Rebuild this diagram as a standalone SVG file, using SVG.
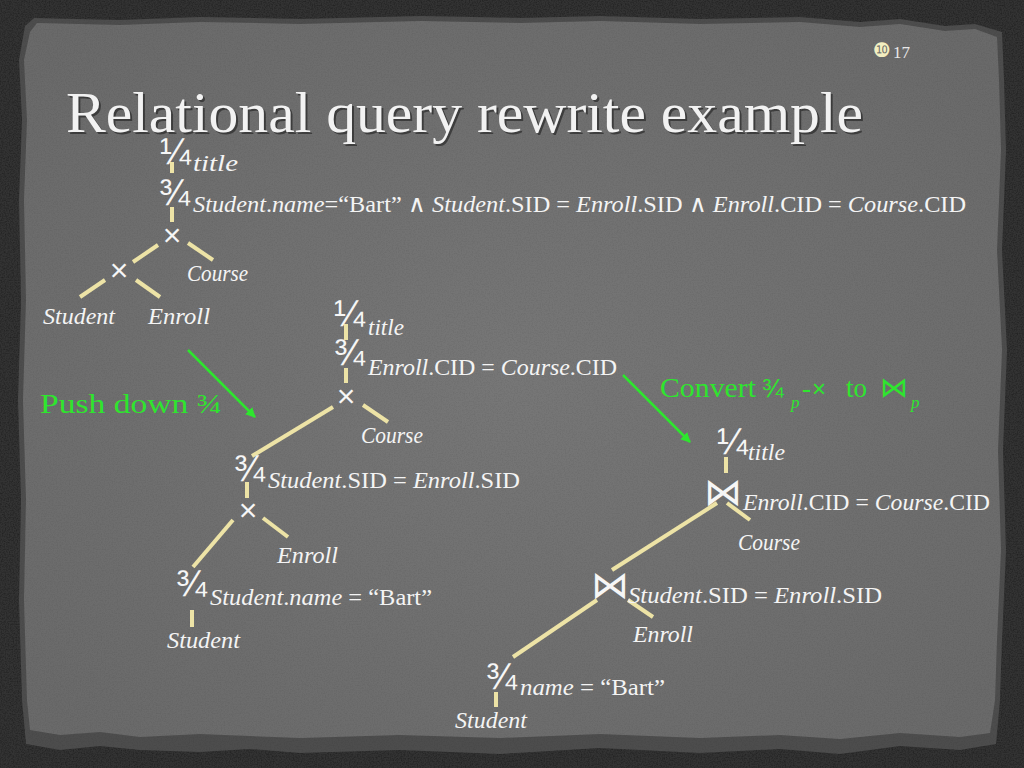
<svg xmlns="http://www.w3.org/2000/svg" width="1024" height="768" viewBox="0 0 1024 768">
<defs>
<style>
.math{font-family:"Liberation Serif",serif;font-size:24px;fill:#f4f4f4}
.it{font-style:italic}
.frac{font-family:"Liberation Sans",Arial,sans-serif;font-size:37px;fill:#f6f6f6}
.op{font-family:"Liberation Sans",Arial,sans-serif;font-size:32px;fill:#f6f6f6;text-anchor:middle}
.join{font-family:"DejaVu Sans",sans-serif;font-weight:200;font-size:38px;fill:#f6f6f6;text-anchor:middle}
.edge{stroke:#ede3a6;stroke-width:4;fill:none}
.green{fill:#2ee52e;font-family:"Liberation Serif",serif}
.garrow{stroke:#2ee52e;stroke-width:2.5;fill:none}
</style>
<marker id="ah" viewBox="0 0 10 10" refX="9" refY="5" markerWidth="4" markerHeight="4" orient="auto" markerUnits="strokeWidth">
<path d="M0,0 L10,5 L0,10 z" fill="#2ee52e"/>
</marker>
<radialGradient id="paper" cx="50%" cy="50%" r="65%">
<stop offset="0" stop-color="#777777"/>
<stop offset="1" stop-color="#6a6a6a"/>
</radialGradient>
<filter id="grain" x="0" y="0" width="100%" height="100%">
<feTurbulence type="fractalNoise" baseFrequency="0.75" numOctaves="2" seed="7" result="t"/>
<feColorMatrix in="t" type="matrix" values="0 0 0 0 0  0 0 0 0 0  0 0 0 0 0  0 0 0 0.9 -0.35" result="d"/>
<feComposite in="d" in2="SourceGraphic" operator="in"/>
</filter>
</defs>

<g id="background">
<rect x="0" y="0" width="1024" height="768" fill="#333333"/>
<rect x="0" y="0" width="1024" height="768" fill="#000" filter="url(#grain)" opacity="0.6"/>
<polygon fill="#4d4d4d" points="34,18 120,20 200,17 300,19 420,16 520,18 600,16 700,19 800,17 860,22 900,19 945,26 975,24 1002,32 1004,80 1006,150 1002,250 1007,350 1003,450 1006,550 1002,640 1000,700 996,744 960,750 900,746 840,754 780,749 700,753 600,748 500,754 400,750 300,753 250,749 200,752 140,750 100,746 60,750 26,744 22,700 19,600 21,500 18,400 21,300 19,200 22,120 19,60 25,26"/>
<polygon fill="url(#paper)" points="37,23 120,25 200,22 300,24 420,21 520,23 600,21 700,24 800,22 860,27 900,24 945,31 975,29 997,37 999,80 1001,150 997,250 1002,350 998,450 1001,550 997,640 995,700 990,733 960,737 900,733 840,739 780,735 700,738 600,734 500,738 400,735 300,738 200,734 140,737 100,732 60,735 30,730 27,700 24,600 26,500 23,400 26,300 24,200 27,120 24,60 30,32"/>
<rect x="0" y="0" width="1024" height="768" fill="#000" filter="url(#grain)" opacity="0.15"/>
</g>

<g id="header">
<text x="68" y="134" font-family="Liberation Serif,serif" font-size="58" fill="#1e1e1e" opacity="0.6" textLength="797" lengthAdjust="spacingAndGlyphs">Relational query rewrite example</text>
<text x="66" y="132" font-family="Liberation Serif,serif" font-size="58" fill="#f2f2f2" textLength="797" lengthAdjust="spacingAndGlyphs">Relational query rewrite example</text>
<text x="873" y="57" font-family="DejaVu Sans,sans-serif" font-size="20" fill="#f3eec0">❿</text>
<text x="893" y="58" font-family="Liberation Serif,serif" font-size="17" fill="#e8e8e8">17</text>
</g>

<g id="connectors">
<line class="edge" x1="172" y1="162" x2="172" y2="173"/>
<line class="edge" x1="172" y1="207" x2="172" y2="222"/>
<line class="edge" x1="158" y1="245" x2="133" y2="262"/>
<line class="edge" x1="188" y1="243" x2="213" y2="260"/>
<line class="edge" x1="105" y1="280" x2="80" y2="297"/>
<line class="edge" x1="136" y1="280" x2="160" y2="297"/>

<line class="edge" x1="346" y1="324" x2="346" y2="340"/>
<line class="edge" x1="346" y1="368" x2="346" y2="383"/>
<line class="edge" x1="333" y1="407" x2="252" y2="456"/>
<line class="edge" x1="363" y1="405" x2="388" y2="422"/>
<line class="edge" x1="247" y1="482" x2="247" y2="498"/>
<line class="edge" x1="233" y1="520" x2="193" y2="567"/>
<line class="edge" x1="263" y1="518" x2="288" y2="537"/>
<line class="edge" x1="192" y1="610" x2="192" y2="627"/>

<line class="edge" x1="726" y1="457" x2="726" y2="473"/>
<line class="edge" x1="717" y1="503" x2="612" y2="570"/>
<line class="edge" x1="727" y1="503" x2="750" y2="520"/>
<line class="edge" x1="597" y1="600" x2="513" y2="657"/>
<line class="edge" x1="628" y1="600" x2="653" y2="617"/>
<line class="edge" x1="496" y1="692" x2="496" y2="707"/>

<line class="garrow" x1="188" y1="350" x2="255" y2="417" marker-end="url(#ah)"/>
<line class="garrow" x1="623" y1="375" x2="690" y2="442" marker-end="url(#ah)"/>
</g>

<g id="tree1">
<g id="t1-project"><text class="frac" x="160" y="164">¼</text><text class="math it" x="193" y="171" textLength="45" lengthAdjust="spacingAndGlyphs">title</text></g>
<g id="t1-select"><text class="frac" x="159" y="205">¾</text><text class="math" x="193" y="212" textLength="773" lengthAdjust="spacingAndGlyphs"><tspan class="it">Student</tspan>.<tspan class="it">name</tspan>=“Bart” ∧ <tspan class="it">Student</tspan>.SID = <tspan class="it">Enroll</tspan>.SID ∧ <tspan class="it">Enroll</tspan>.CID = <tspan class="it">Course</tspan>.CID</text></g>
<g id="t1-cross1"><text class="op" x="172" y="246">×</text></g>
<g id="t1-cross2"><text class="op" x="119" y="281">×</text></g>
<g id="t1-course"><text class="math it" x="187" y="281" textLength="61" lengthAdjust="spacingAndGlyphs">Course</text></g>
<g id="t1-student"><text class="math it" x="43" y="324" textLength="72" lengthAdjust="spacingAndGlyphs">Student</text></g>
<g id="t1-enroll"><text class="math it" x="148" y="324" textLength="62" lengthAdjust="spacingAndGlyphs">Enroll</text></g>
</g>

<g id="tree2">
<g id="t2-project"><text class="frac" x="334" y="326">¼</text><text class="math it" x="368" y="335" textLength="36" lengthAdjust="spacingAndGlyphs">title</text></g>
<g id="t2-select1"><text class="frac" x="334" y="365">¾</text><text class="math" x="368" y="375" textLength="249" lengthAdjust="spacingAndGlyphs"><tspan class="it">Enroll</tspan>.CID = <tspan class="it">Course</tspan>.CID</text></g>
<g id="t2-cross1"><text class="op" x="346" y="407">×</text></g>
<g id="t2-course"><text class="math it" x="361" y="443" textLength="62" lengthAdjust="spacingAndGlyphs">Course</text></g>
<g id="t2-select2"><text class="frac" x="234" y="481">¾</text><text class="math" x="268" y="488" textLength="252" lengthAdjust="spacingAndGlyphs"><tspan class="it">Student</tspan>.SID = <tspan class="it">Enroll</tspan>.SID</text></g>
<g id="t2-cross2"><text class="op" x="248" y="521">×</text></g>
<g id="t2-enroll"><text class="math it" x="277" y="563" textLength="61" lengthAdjust="spacingAndGlyphs">Enroll</text></g>
<g id="t2-select3"><text class="frac" x="176" y="596">¾</text><text class="math" x="210" y="605" textLength="222" lengthAdjust="spacingAndGlyphs"><tspan class="it">Student</tspan>.<tspan class="it">name</tspan> = “Bart”</text></g>
<g id="t2-student"><text class="math it" x="167" y="648" textLength="73" lengthAdjust="spacingAndGlyphs">Student</text></g>
</g>

<g id="tree3">
<g id="t3-project"><text class="frac" x="717" y="454" font-size="35">¼</text><text class="math it" x="748" y="460" textLength="37" lengthAdjust="spacingAndGlyphs">title</text></g>
<g id="t3-join1"><text class="join" x="723" y="505">⋈</text><text class="math" x="743" y="510" textLength="247" lengthAdjust="spacingAndGlyphs"><tspan class="it">Enroll</tspan>.CID = <tspan class="it">Course</tspan>.CID</text></g>
<g id="t3-course"><text class="math it" x="738" y="550" textLength="62" lengthAdjust="spacingAndGlyphs">Course</text></g>
<g id="t3-join2"><text class="join" x="610" y="598">⋈</text><text class="math" x="628" y="603" textLength="254" lengthAdjust="spacingAndGlyphs"><tspan class="it">Student</tspan>.SID = <tspan class="it">Enroll</tspan>.SID</text></g>
<g id="t3-enroll"><text class="math it" x="633" y="642" textLength="60" lengthAdjust="spacingAndGlyphs">Enroll</text></g>
<g id="t3-select"><text class="frac" x="486" y="689">¾</text><text class="math" x="520" y="695" textLength="145" lengthAdjust="spacingAndGlyphs"><tspan class="it">name</tspan> = “Bart”</text></g>
<g id="t3-student"><text class="math it" x="455" y="728" textLength="72" lengthAdjust="spacingAndGlyphs">Student</text></g>
</g>

<g id="labels">
<text class="green" x="40" y="413" font-size="28" textLength="182" lengthAdjust="spacingAndGlyphs">Push down ¾</text>
<text class="green" y="397" font-size="27"><tspan x="660" textLength="96" lengthAdjust="spacingAndGlyphs">Convert</tspan><tspan x="762" font-family="Liberation Sans,sans-serif" font-size="26">¾</tspan><tspan x="791" y="408" font-style="italic" font-size="17">p</tspan><tspan x="802" y="397">-</tspan><tspan x="812" font-family="Liberation Sans,sans-serif" font-size="24">×</tspan><tspan x="846">to</tspan><tspan x="880" font-family="DejaVu Sans,sans-serif" font-weight="200" font-size="28">⋈</tspan><tspan x="911" y="408" font-style="italic" font-size="17">p</tspan></text>
</g>
</svg>
